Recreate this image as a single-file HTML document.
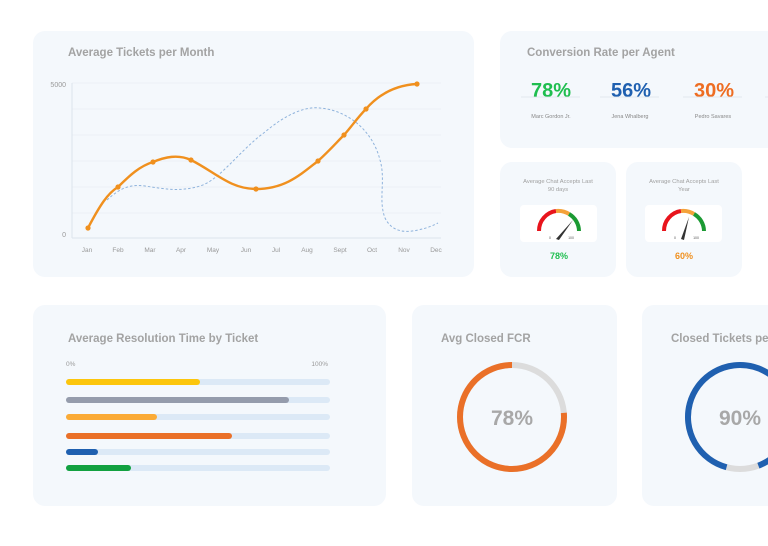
<!DOCTYPE html>
<html><head><meta charset="utf-8"><style>
body{margin:0;width:768px;height:541px;background:#fff;overflow:hidden;font-family:"Liberation Sans",sans-serif}
</style></head><body>
<svg width="768" height="541" viewBox="0 0 768 541" xmlns="http://www.w3.org/2000/svg" font-family="Liberation Sans, sans-serif">
<g fill="#f4f8fc">
<rect x="33" y="31" width="441" height="246" rx="12"/>
<rect x="500" y="31" width="290" height="117" rx="12"/>
<rect x="500" y="162" width="116" height="115" rx="12"/>
<rect x="626" y="162" width="116" height="115" rx="12"/>
<rect x="33" y="305" width="353" height="201" rx="12"/>
<rect x="412" y="305" width="205" height="201" rx="12"/>
<rect x="642" y="305" width="150" height="201" rx="12"/>
</g>
<text x="68" y="56" font-size="11.5" font-weight="bold" fill="#a3a3a3">Average Tickets per Month</text>
<g stroke="#e8eef4" stroke-width="0.7">
<line x1="72" y1="83" x2="441" y2="83"/><line x1="72" y1="109" x2="441" y2="109"/><line x1="72" y1="135" x2="441" y2="135"/><line x1="72" y1="161" x2="441" y2="161"/><line x1="72" y1="187" x2="441" y2="187"/><line x1="72" y1="213" x2="441" y2="213"/>
</g>
<line x1="72" y1="83" x2="72" y2="238" stroke="#dde4ec"/><line x1="72" y1="238" x2="441" y2="238" stroke="#dde4ec"/>
<text x="66" y="87" font-size="7" fill="#999" text-anchor="end">5000</text>
<text x="66" y="237" font-size="7" fill="#999" text-anchor="end">0</text>
<g font-size="6.5" fill="#999" text-anchor="middle">
<text x="87" y="252">Jan</text><text x="118" y="252">Feb</text><text x="150" y="252">Mar</text><text x="181" y="252">Apr</text><text x="213" y="252">May</text><text x="246" y="252">Jun</text><text x="276" y="252">Jul</text><text x="307" y="252">Aug</text><text x="340" y="252">Sept</text><text x="372" y="252">Oct</text><text x="404" y="252">Nov</text><text x="436" y="252">Dec</text>
</g>
<path d="M107 200 C120 188,130 184,145 186 C165 189,180 192,200 186 C220 180,240 150,265 132 C285 115,305 106,320 108 C345 110,372 128,380 160 C386 180,378 200,385 218 C392 232,405 233,418 230 C428 228,434 225,438 223" fill="none" stroke="#8fb3dc" stroke-width="1" stroke-dasharray="2.5,2"/>
<path d="M88 228 C100 205,108 193,118 187 C130 175,140 166,153 162 C165 157,178 154,191 160 C215 172,230 189,256 189 C285 189,300 175,318 161 C330 150,336 143,344 135 C352 126,358 117,366 109 C380 93,397 85,417 84" fill="none" stroke="#f0901e" stroke-width="2.4"/>
<g fill="#f0901e"><circle cx="88" cy="228" r="2.6"/><circle cx="118" cy="187" r="2.6"/><circle cx="153" cy="162" r="2.6"/><circle cx="191" cy="160" r="2.6"/><circle cx="256" cy="189" r="2.6"/><circle cx="318" cy="161" r="2.6"/><circle cx="344" cy="135" r="2.6"/><circle cx="366" cy="109" r="2.6"/><circle cx="417" cy="84" r="2.6"/></g>

<text x="527" y="56" font-size="11.5" font-weight="bold" fill="#a3a3a3">Conversion Rate per Agent</text>
<g font-size="20" font-weight="bold" text-anchor="middle">
<text x="551" y="97" fill="#1fbe4f">78%</text><text x="631" y="97" fill="#1f60b0">56%</text><text x="714" y="97" fill="#ee6d22">30%</text>
</g>
<g stroke="#dde3ea" stroke-width="0.7"><line x1="521" y1="97" x2="580" y2="97"/><line x1="600" y1="97" x2="659" y2="97"/><line x1="683" y1="97" x2="742" y2="97"/><line x1="765" y1="97" x2="768" y2="97"/></g>
<g font-size="5.5" fill="#888" text-anchor="middle"><text x="551" y="118">Marc Gordon Jr.</text><text x="630" y="118">Jena Whalberg</text><text x="713" y="118">Pedro Savares</text></g>

<g font-size="5.8" fill="#a0a0a0" text-anchor="middle">
<text x="558" y="183">Average Chat Accepts Last</text><text x="558" y="191">90 days</text>
<text x="684" y="183">Average Chat Accepts Last</text><text x="684" y="191">Year</text>
</g>
<rect x="520" y="205" width="77" height="37" rx="4" fill="#fff"/>
<rect x="645" y="205" width="77" height="37" rx="4" fill="#fff"/>
<g fill="none" stroke-width="4">
<path d="M539 231 A20 20 0 0 1 556 211" stroke="#e8141c"/><path d="M556 211 A20 20 0 0 1 569 214" stroke="#f4a23a"/><path d="M569 214 A20 20 0 0 1 579 231" stroke="#1b9a33"/>
<path d="M664 231 A20 20 0 0 1 681 211" stroke="#e8141c"/><path d="M681 211 A20 20 0 0 1 694 214" stroke="#f4a23a"/><path d="M694 214 A20 20 0 0 1 704 231" stroke="#1b9a33"/>
</g>
<g fill="#555" font-size="3.5" text-anchor="middle"><text x="550" y="239">0</text><text x="571" y="239">100</text><text x="675" y="239">0</text><text x="696" y="239">100</text></g>
<path d="M556 239 L573 220 L559 240 Z" fill="#333"/>
<path d="M681 239 L689 217 L684 240 Z" fill="#333"/>
<g font-size="9" font-weight="bold" text-anchor="middle"><text x="559" y="259" fill="#1fbe4f">78%</text><text x="684" y="259" fill="#f0901e">60%</text></g>

<text x="68" y="342" font-size="11.5" font-weight="bold" fill="#a3a3a3">Average Resolution Time by Ticket</text>
<text x="66" y="366" font-size="6.5" fill="#999">0%</text><text x="328" y="366" font-size="6.5" fill="#999" text-anchor="end">100%</text>
<g stroke-linecap="round" stroke-width="6">
<line x1="69" y1="382" x2="327" y2="382" stroke="#dce9f6"/><line x1="69" y1="382" x2="197" y2="382" stroke="#fcc60d"/>
<line x1="69" y1="400" x2="327" y2="400" stroke="#dce9f6"/><line x1="69" y1="400" x2="286" y2="400" stroke="#959cac"/>
<line x1="69" y1="417" x2="327" y2="417" stroke="#dce9f6"/><line x1="69" y1="417" x2="154" y2="417" stroke="#fbab36"/>
<line x1="69" y1="436" x2="327" y2="436" stroke="#dce9f6"/><line x1="69" y1="436" x2="229" y2="436" stroke="#ea7028"/>
<line x1="69" y1="452" x2="327" y2="452" stroke="#dce9f6"/><line x1="69" y1="452" x2="95" y2="452" stroke="#1f60b0"/>
<line x1="69" y1="468" x2="327" y2="468" stroke="#dce9f6"/><line x1="69" y1="468" x2="128" y2="468" stroke="#12a140"/>
</g>

<text x="441" y="342" font-size="11.5" font-weight="bold" fill="#a3a3a3">Avg Closed FCR</text>
<circle cx="512" cy="417" r="52" fill="none" stroke="#dcdcdc" stroke-width="6"/>
<circle cx="512" cy="417" r="52" fill="none" stroke="#ea7028" stroke-width="6" stroke-dasharray="249 327" transform="rotate(-90 512 417) scale(1 -1) translate(0 -834)"/>
<text x="512" y="425" font-size="21" font-weight="bold" fill="#a8a8a8" text-anchor="middle">78%</text>

<text x="671" y="342" font-size="11.5" font-weight="bold" fill="#a3a3a3">Closed Tickets per</text>
<circle cx="740" cy="417" r="52" fill="none" stroke="#dcdcdc" stroke-width="6"/>
<circle cx="740" cy="417" r="52" fill="none" stroke="#1f60b0" stroke-width="6" stroke-dasharray="294 327" transform="rotate(105 740 417)"/>
<text x="740" y="425" font-size="21" font-weight="bold" fill="#a8a8a8" text-anchor="middle">90%</text>
</svg>
</body></html>
